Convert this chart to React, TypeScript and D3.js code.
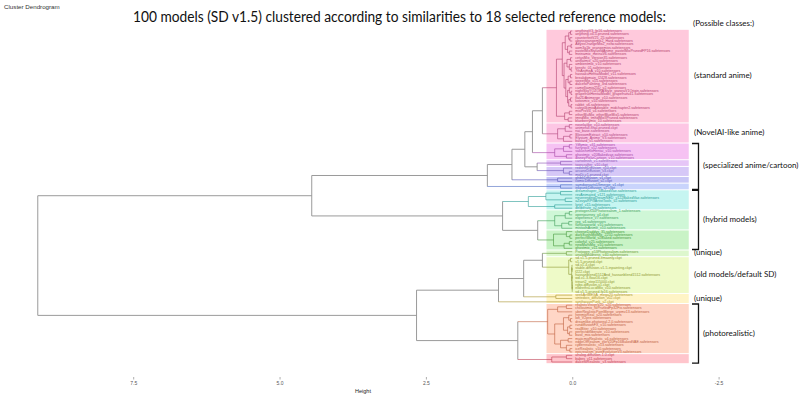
import React, { useEffect, useRef } from "react"
import * as d3 from "d3"

// leaf labels, top to bottom as in the dendrogram
const standardAnime = [
  "anythingV3_fp16.safetensors", "anything-v4.5-pruned.safetensors", "counterfeitV25_25.safetensors",
  "abyssorangemix2_Hard.safetensors", "AbyssOrangeMix2_nsfw.safetensors", "aom3a1b_orangemixs.safetensors",
  "pastelMixStylizedAnime_pastelMixPrunedFP16.safetensors", "meinamix_meinaV6.safetensors",
  "cetusMix_Version35.safetensors", "aniflatmix_v20.safetensors", "ambientmix_v10.safetensors",
  "kenshi_01.safetensors", "7thAnimeA_v10.safetensors", "hassakuHentaiModel_v11.safetensors",
  "breakdomain_I2428.safetensors", "sweetMix_v15.safetensors", "dalcefoPainting_3rd.safetensors",
  "camelliamix25D_v2.safetensors", "nightSkyYOZORAStyle_yozoraV1Origin.safetensors",
  "grapefruitHentaiModel_grapefruitv41.safetensors", "flat2DAnimerge_v10.safetensors",
  "kotosmix_v10.safetensors", "rabbit_v6.safetensors", "cuteyukimixAdorable_midchapter2.safetensors",
  "mixProV4_v4.safetensors", "etherBluMix_etherBlueMix5.safetensors", "tmndMix_tmndMixIIPruned.safetensors",
  "blueberrymix_10.safetensors",
]
const novelAILike = [
  "novelailike_v10.safetensors", "animefull-final-pruned.ckpt", "nai_base.safetensors",
  "BlossomExtract_v10.safetensors", "Elysium_Anime_V3.safetensors", "bastard_v1.safetensors",
]
const specialized = [
  "Yiffymix_v31.safetensors", "furryrock_v12.safetensors", "sakushimixHentai_v10.safetensors",
  "ghostmix_v20Bakedvae.safetensors", "disneyPixarCartoon_v10.safetensors", "cartoonish_v1.safetensors",
  "tooncrafter_v10.ckpt", "redshiftDiffusion_v10.ckpt", "arcaneDiffusion_v3.ckpt", "moDi-v1-pruned.ckpt",
  "ghibliDiffusion_v1.ckpt", "comicDiffusion_v2.ckpt", "samdoesartsUltmerge_v1.ckpt", "inkpunkDiffusion_v2.ckpt",
]
const hybrid = [
  "dreamshaper_5BakedVae.safetensors", "revAnimated_v121.safetensors",
  "neverendingDreamNED_v122BakedVae.safetensors", "aZovyaRPGArtistTools_v2.safetensors",
  "lyriel_v15.safetensors", "deliberate_v2.safetensors", "protogenX34Photorealism_1.safetensors",
  "openjourney_v4.ckpt", "experience_v7.safetensors", "rpg_v4.safetensors", "fantasyworld_v10.safetensors",
  "mistoonAnime_v10.safetensors", "cheeseDaddys_35.safetensors", "darkSushiMixMix_225D.safetensors",
  "perfectWorld_v2Baked.safetensors", "colorful_v25.safetensors", "newMarsMix_v10.safetensors",
  "ghostmix_v11.safetensors",
]
const uniqueA = ["Protogen_x53Photorealism.safetensors", "analogMadness_v40.safetensors"]
const oldModels = [
  "sd-v1-5-pruned-emaonly.ckpt", "v1-5-pruned.ckpt", "sd-v1-4.ckpt", "stable-diffusion-v1-5-inpainting.ckpt",
  "f222.ckpt", "hassanblend1512And_hassanblend1512.safetensors", "wd-v1-3-float16.ckpt",
  "trinart2_step115000.ckpt", "robo-diffusion-v1.ckpt", "elldrethsLucidMix_v10.safetensors",
  "sd-v1-5-pruned-fp16.safetensors",
]
const uniqueB = ["seekArtMEGA_mega20.safetensors", "vintedois_diffusion_v02.ckpt", "synthwavePunk_v2.ckpt"]
const photorealistic = [
  "realisticVisionV20_v20.safetensors", "chilloutmix_NiPrunedFp32Fix.safetensors",
  "uberRealisticPornMerge_urpmv13.safetensors", "henmixReal_v20.safetensors", "lofi_V2pre.safetensors",
  "dreamlike-photoreal-2.0.safetensors", "rundiffusionFX_v10.safetensors", "realBiter_v10.safetensors",
  "perfectdeliberate_v10.safetensors", "basil_mix.safetensors", "majicmixRealistic_v4.safetensors",
  "edgeOfRealism_eorV20Fp16BakedVAE.safetensors", "cyberrealistic_v13.safetensors",
  "iceRealistic_v10.safetensors", "epicrealism_pureEvolutionV3.safetensors",
]
const photoRed = ["analog-diffusion-1.0.ckpt", "babes_v11.safetensors", "dalcefoRealistic_v3.safetensors"]

const models = [
  ...standardAnime, ...novelAILike, ...specialized, ...hybrid, ...uniqueA,
  ...oldModels, ...uniqueB, ...photorealistic, ...photoRed,
]

// merges: [height, left, right], leaves are indices into models
type Merge = number | [number, Merge, Merge]

const standardTree: Merge = [0.27,
  [0.17,
    [0.12, [0.06, [0.03, 0, 1], [0.04, 2, 3]], [0.08, [0.02, 4, 5], [0.05, 6, 7]]],
    [0.14, [0.09, [0.03, 8, 9], [0.05, 10, [0.02, 11, 12]]],
      [0.11, [0.07, [0.03, 13, 14], [0.04, 15, 16]],
        [0.08, [0.05, 17, [0.02, 18, 19]], [0.06, [0.03, 20, 21], [0.02, 22, 23]]]]]],
  [0.13, [0.05, 24, 25], [0.07, 26, 27]]]
const novelTree: Merge = [0.25, [0.12, [0.05, 28, 29], 30], [0.15, [0.04, 31, 32], 33]]
const magentaTree: Merge = [0.3, [0.15, [0.05, 34, 35], 36], [0.1, 37, 38]]
const lavenderTree: Merge = [0.6, [0.2, 39, 40], [0.15, 41, [0.05, 42, 43]]]
const cyanTree: Merge = [0.45, [0.2, 48, 49], [0.12, 50, 51]]
const lightGreenTree: Merge = [0.3, [0.12, [0.05, 54, 55], 56], [0.18, [0.06, 57, 58], 59]]
const greenTree: Merge = [0.32, [0.1, 60, [0.04, 61, 62]], [0.14, [0.05, 63, 64], 65]]
const oldTree: Merge = [0.06, [0.03, 68, 69],
  [0.01, [0.005, 70, [0.003, 71, 72]], [0.004, [0.002, 73, 74], [0.003, 75, [0.001, [0.001, 76, 77], 78]]]]]
const photoTop: Merge = [0.25, [0.1, 82, 83], 84]
const photoBottom: Merge = [0.3,
  [0.15, [0.06, 85, [0.03, 86, 87]], [0.08, [0.04, 88, 89], [0.05, 90, 91]]],
  [0.2, [0.07, 92, 93], [0.1, 94, [0.04, 95, 96]]]]
const redTree: Merge = [0.35, [0.1, 97, 98], 99]

const mergeTree: Merge = [9.13,
  [4.45,
    [1.45,
      [1.03,
        [0.81,
          [0.68, [0.51, standardTree, novelTree], magentaTree],
          lavenderTree],
        [0.25, 44, 45]],
      [0.2, 46, 47]],
    [1.19,
      [0.75, cyanTree, [0.3, 52, 53]],
      [0.59, lightGreenTree, greenTree]]],
  [2.66,
    [1.26,
      [0.83, [0.51, [0.1, 66, 67], oldTree], [0.28, 79, 80]],
      81],
    [0.93, [0.42, photoTop, photoBottom], redTree]]]

// coloured bands (number of leaves in each)
const bandSizes = [28, 6, 5, 2, 3, 2, 2, 6, 6, 6, 2, 11, 3, 15, 3]
const bandFill = ["#ffc9dc", "#fdc6e4", "#f6c2f3", "#e6c6f7", "#d6c8f7", "#c8c6f6", "#c9d4fc", "#c6f5f1",
  "#cff7d7", "#c9f3c6", "#ddf7cd", "#eefac8", "#fff4c6", "#ffd6c6", "#ffc5cc"]
const bandInk = ["#b4406e", "#b0447c", "#a444a4", "#8a52b4", "#6c58b8", "#5656b8", "#4a68c0", "#2a9c96",
  "#3c9c58", "#46983c", "#6a9a3a", "#8c9630", "#a8922c", "#c0603e", "#c03e52"]

const classLabels = [
  { text: "(standard anime)", first: 0, last: 27, bracket: false },
  { text: "(NovelAI-like anime)", first: 28, last: 33, bracket: false },
  { text: "(specialized anime/cartoon)", first: 34, last: 47, bracket: true },
  { text: "(hybrid models)", first: 48, last: 65, bracket: true },
  { text: "(unique)", first: 66, last: 67, bracket: false },
  { text: "(old models/default SD)", first: 68, last: 78, bracket: false },
  { text: "(unique)", first: 79, last: 81, bracket: false },
  { text: "(photorealistic)", first: 82, last: 99, bracket: true },
]
const heightTicks = [7.5, 5.0, 2.5, 0.0, -2.5]

export default function App() {
  const ref = useRef<SVGSVGElement>(null)

  useEffect(() => {
    const svg = d3.select(ref.current)
    svg.selectAll("*").remove()

    const x = d3.scaleLinear().domain([7.5, -2.5]).range([133.2, 718.6])
    const y = d3.scalePoint<number>().domain(d3.range(models.length)).range([31, 362])
    const step = y.step()

    // which band each leaf sits in
    const bandOf: number[] = []
    bandSizes.forEach((n, b) => { for (let i = 0; i < n; i++) bandOf.push(b) })

    const root = d3.hierarchy<Merge>(mergeTree, (d) => (Array.isArray(d) ? [d[1], d[2]] : null))
    const pos = new Map<any, { h: number; y: number; band: number }>()
    root.eachAfter((n: any) => {
      if (!n.children) {
        const i = n.data as number
        pos.set(n, { h: 0, y: y(i)!, band: bandOf[i] })
      } else {
        const a = pos.get(n.children[0])!
        const b = pos.get(n.children[1])!
        pos.set(n, { h: (n.data as any)[0], y: (a.y + b.y) / 2, band: a.band === b.band ? a.band : -1 })
      }
    })

    // bands behind the leaves
    let start = 0
    bandSizes.forEach((n, b) => {
      const y0 = y(start)! - step / 2 + 0.5
      const y1 = y(start + n - 1)! + step / 2 - 0.5
      svg.append("rect")
        .attr("x", x(0.44)).attr("y", y0)
        .attr("width", x(-1.99) - x(0.44)).attr("height", y1 - y0)
        .attr("fill", bandFill[b])
      start += n
    })

    // branches
    const gray = "#8e8e8e"
    const lines = svg.append("g").attr("fill", "none")
    root.each((n: any) => {
      if (!n.children) return
      const p = pos.get(n)!
      const c0 = pos.get(n.children[0])!
      const c1 = pos.get(n.children[1])!
      lines.append("line")
        .attr("x1", x(p.h)).attr("x2", x(p.h)).attr("y1", c0.y).attr("y2", c1.y)
        .attr("stroke", p.band >= 0 ? bandInk[p.band] : gray)
        .attr("stroke-width", p.band >= 0 ? 0.6 : 0.9)
      for (const c of [c0, c1]) {
        lines.append("line")
          .attr("x1", x(p.h)).attr("x2", x(c.h)).attr("y1", c.y).attr("y2", c.y)
          .attr("stroke", c.band >= 0 ? bandInk[c.band] : gray)
          .attr("stroke-width", c.band >= 0 ? 0.6 : 0.9)
      }
    })

    // leaf labels
    svg.append("g")
      .selectAll("text")
      .data(models)
      .enter()
      .append("text")
      .attr("x", x(0) + 3)
      .attr("y", (d, i) => y(i)!)
      .attr("dominant-baseline", "middle")
      .attr("font-family", "Liberation Sans, Arial, sans-serif")
      .attr("font-size", 3.6)
      .attr("fill", (d, i) => bandInk[bandOf[i]])
      .text((d) => d)

    // axis
    svg.append("g")
      .attr("transform", "translate(0,377)")
      .call(d3.axisBottom(x).tickValues(heightTicks).tickSize(2.5).tickPadding(1.5)
        .tickFormat((d) => (+d).toFixed(1)))
      .call((g) => g.select(".domain").remove())
      .call((g) => g.selectAll(".tick line").attr("stroke", "#777").attr("stroke-width", 0.6))
      .call((g) => g.selectAll("text").attr("font-size", 5).attr("fill", "#555")
        .attr("font-family", "Liberation Sans, Arial, sans-serif"))

    svg.append("text")
      .attr("x", 363).attr("y", 393)
      .attr("text-anchor", "middle")
      .attr("font-family", "Liberation Sans, Arial, sans-serif")
      .attr("font-size", 5.5).attr("fill", "#222")
      .text("Height")

    svg.append("text")
      .attr("x", 4).attr("y", 9)
      .attr("font-family", "Liberation Sans, Arial, sans-serif")
      .attr("font-size", 6.2).attr("fill", "#333")
      .text("Cluster Dendrogram")

    svg.append("text")
      .attr("x", 133).attr("y", 22)
      .attr("font-family", "Lato, sans-serif")
      .attr("font-size", 14.5).attr("fill", "#111")
      .attr("textLength", 533).attr("lengthAdjust", "spacingAndGlyphs")
      .text("100 models (SD v1.5) clustered according to similarities to 18 selected reference models:")

    // class annotations
    const ann = svg.append("g").attr("font-family", "Lato, sans-serif").attr("font-size", 8).attr("fill", "#111")
    ann.append("text").attr("x", 693).attr("y", 24).attr("dominant-baseline", "middle").text("(Possible classes:)")
    classLabels.forEach((c) => {
      const y0 = y(c.first)! - step / 2
      const y1 = y(c.last)! + step / 2
      ann.append("text")
        .attr("x", c.bracket ? 703 : 694)
        .attr("y", (y0 + y1) / 2)
        .attr("dominant-baseline", "middle")
        .text(c.text)
      if (c.bracket) {
        ann.append("path")
          .attr("d", `M692,${y0 + 0.5}H698.5V${y1 - 0.5}H692`)
          .attr("fill", "none").attr("stroke", "#111").attr("stroke-width", 1.3)
      }
    })
  }, [])

  return (
    <svg
      ref={ref}
      width={800}
      height={397}
      style={{ position: "absolute", left: 0, top: 0, background: "#fff" }}
    />
  )
}
